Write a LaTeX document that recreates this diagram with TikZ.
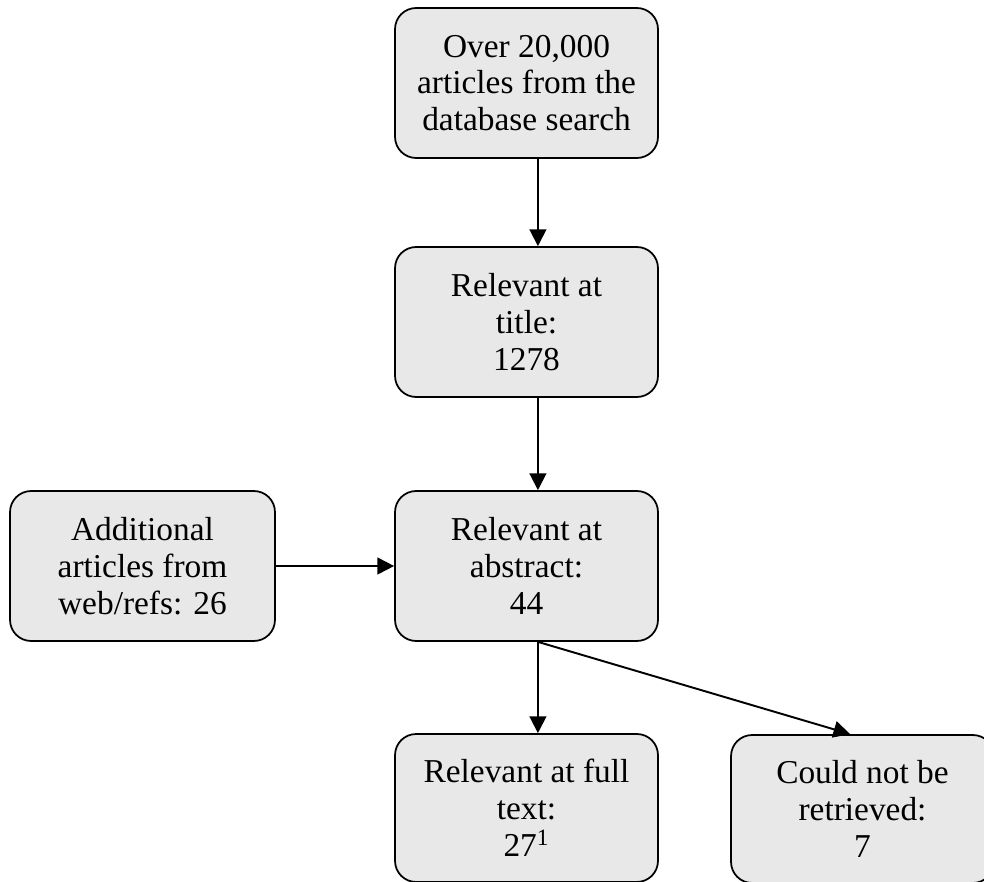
\documentclass[tikz,border=0pt]{standalone}
\usepackage{fontspec}
\setmainfont{Liberation Serif}
\usetikzlibrary{arrows.meta}
\definecolor{boxgray}{RGB}{232,232,232}
\begin{document}
\begin{tikzpicture}[x=0.02cm,y=-0.02cm,
  box/.style={draw,line width=1pt,fill=boxgray,rounded corners=12pt,
    minimum width=5.26cm,minimum height=3cm,align=center,
    font=\fontsize{19}{21}\selectfont},
  flow/.style={line width=1.1pt,-{Triangle[length=9.5pt,width=9.5pt]}}]
\useasboundingbox (0,0) rectangle (984,882);

\node[box] (db) at (526.5,83) {Over 20,000\\articles from the\\database search};
\node[box] (title) at (526.5,322) {Relevant at\\title:\\1278};
\node[box] (abs) at (526.5,566) {Relevant at\\abstract:\\44};
\node[box,minimum width=5.3cm] (add) at (142.5,566) {Additional\\articles from\\web/refs: 26};
\node[box,minimum height=2.96cm] (full) at (526.5,808) {Relevant at full\\text:\\27\textsuperscript{1}};
\node[box,minimum height=2.96cm] (notret) at (862.5,809) {Could not be\\retrieved:\\7};

\draw[flow] ([xshift=6.5pt]db.south) -- ([xshift=6.5pt]title.north);
\draw[flow] ([xshift=6.5pt]title.south) -- ([xshift=6.5pt]abs.north);
\draw[flow] (add.east) -- (abs.west);
\draw[flow] ([xshift=6.5pt]abs.south) -- ([xshift=6.5pt]full.north);
\draw[flow] ([xshift=6.5pt]abs.south) -- ([xshift=-7pt]notret.north);
\end{tikzpicture}
\end{document}
